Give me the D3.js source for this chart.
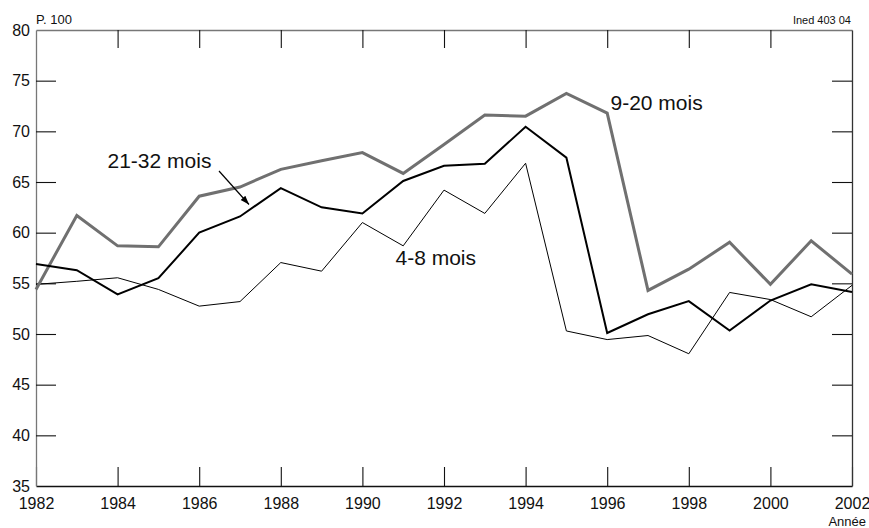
<!DOCTYPE html>
<html>
<head>
<meta charset="utf-8">
<script src="https://cdn.jsdelivr.net/npm/d3@7"></script>
<style>
  html, body { margin: 0; padding: 0; background: #fff; }
  svg { display: block; font-family: "Liberation Sans", Arial, sans-serif; }
</style>
</head>
<body>
<svg id="chart" width="869" height="528"></svg>
<script>
const years = d3.range(1982, 2003);
const m9_20  = [54.4, 61.7, 58.7, 58.6, 63.6, 64.5, 66.25, 67.1, 67.9, 65.85, 68.7, 71.6, 71.5, 73.75, 71.8, 54.3, 56.4, 59.05, 54.9, 59.2, 55.9];
const m21_32 = [56.9, 56.3, 53.9, 55.5, 60.0, 61.6, 64.4, 62.5, 61.9, 65.1, 66.6, 66.8, 70.45, 67.4, 50.1, 51.95, 53.25, 50.35, 53.3, 54.9, 54.15];
const m4_8   = [54.9, 55.2, 55.55, 54.4, 52.75, 53.2, 57.05, 56.2, 61.0, 58.7, 64.2, 61.9, 66.85, 50.3, 49.45, 49.85, 48.05, 54.1, 53.4, 51.7, 54.8];
const xTicks = d3.range(1982, 2003, 2);
const yTicks = d3.range(35, 81, 5);
const seriesLabels = ["9-20 mois", "21-32 mois", "4-8 mois"];

const W = 869, H = 528;
const margin = {left: 36, right: 17, top: 30, bottom: 42};
const svg = d3.select("#chart");

const x = d3.scaleLinear().domain([1982, 2002]).range([margin.left, W - margin.right]);
const y = d3.scaleLinear().domain([35, 80]).range([H - margin.bottom, margin.top]);

function styleAxis(g, domainColor) {
  g.select(".domain").attr("stroke", domainColor).attr("stroke-width", 1.3);
  g.selectAll(".tick line").attr("stroke", "#111").attr("stroke-width", 1.1);
  g.selectAll(".tick text").attr("fill", "#111");
}

// Bottom axis
const gB = svg.append("g").attr("transform", `translate(0,${y(35)})`)
  .call(d3.axisBottom(x).tickValues(xTicks).tickFormat(d3.format("d")).tickSizeInner(-19).tickSizeOuter(0).tickPadding(12));
gB.selectAll(".tick text").attr("font-size", 16);
styleAxis(gB, "#111");

// Top axis
const gT = svg.append("g").attr("transform", `translate(0,${y(80)})`)
  .call(d3.axisTop(x).tickValues(xTicks.slice(1, -1)).tickFormat("").tickSizeInner(-18).tickSizeOuter(0));
styleAxis(gT, "#777");

// Left axis
const gL = svg.append("g").attr("transform", `translate(${x(1982)},0)`)
  .call(d3.axisLeft(y).tickValues(yTicks).tickFormat(d3.format("d")).tickSizeInner(-20).tickSizeOuter(0).tickPadding(6));
gL.selectAll(".tick text").attr("font-size", 16);
gL.selectAll(".tick").filter(d => d === 35 || d === 80).select("line").remove();
styleAxis(gL, "#777");

// Right axis
const gR = svg.append("g").attr("transform", `translate(${x(2002)},0)`)
  .call(d3.axisRight(y).tickValues(yTicks.slice(1, -1)).tickFormat("").tickSizeInner(-20).tickSizeOuter(0));
styleAxis(gR, "#333");

// Lines
const line = d3.line().x((d, i) => x(years[i])).y(d => y(d));
svg.append("path").datum(m4_8).attr("d", line)
  .attr("fill", "none").attr("stroke", "#000").attr("stroke-width", 1).attr("stroke-linejoin", "miter");
svg.append("path").datum(m9_20).attr("d", line)
  .attr("fill", "none").attr("stroke", "#707070").attr("stroke-width", 3).attr("stroke-linejoin", "miter");
svg.append("path").datum(m21_32).attr("d", line)
  .attr("fill", "none").attr("stroke", "#000").attr("stroke-width", 2).attr("stroke-linejoin", "miter");

// Series labels
svg.append("text").attr("x", 610.5).attr("y", 110).attr("font-size", 21).attr("fill", "#111").text(seriesLabels[0]);
svg.append("text").attr("x", 107.5).attr("y", 167.5).attr("font-size", 21).attr("fill", "#111").text(seriesLabels[1]);
svg.append("text").attr("x", 395.5).attr("y", 265).attr("font-size", 21).attr("fill", "#111").text(seriesLabels[2]);

// Arrow
const defs = svg.append("defs");
defs.append("marker").attr("id", "arr").attr("viewBox", "0 0 10 10").attr("refX", 10).attr("refY", 5)
  .attr("markerWidth", 9).attr("markerHeight", 9).attr("markerUnits", "userSpaceOnUse").attr("orient", "auto")
  .append("path").attr("d", "M0,1.5 L10,5 L0,8.5 Z").attr("fill", "#000");
svg.append("line").attr("x1", 219).attr("y1", 171).attr("x2", 249).attr("y2", 204.5)
  .attr("stroke", "#000").attr("stroke-width", 1.2).attr("marker-end", "url(#arr)");

// Annotations
svg.append("text").attr("x", 36).attr("y", 24).attr("font-size", 13).attr("fill", "#111").text("P. 100");
svg.append("text").attr("x", 851).attr("y", 24).attr("font-size", 11).attr("text-anchor", "end").attr("fill", "#111").text("Ined 403 04");
svg.append("text").attr("x", 866).attr("y", 526).attr("font-size", 13).attr("text-anchor", "end").attr("fill", "#111").text("Année");
</script>
</body>
</html>
